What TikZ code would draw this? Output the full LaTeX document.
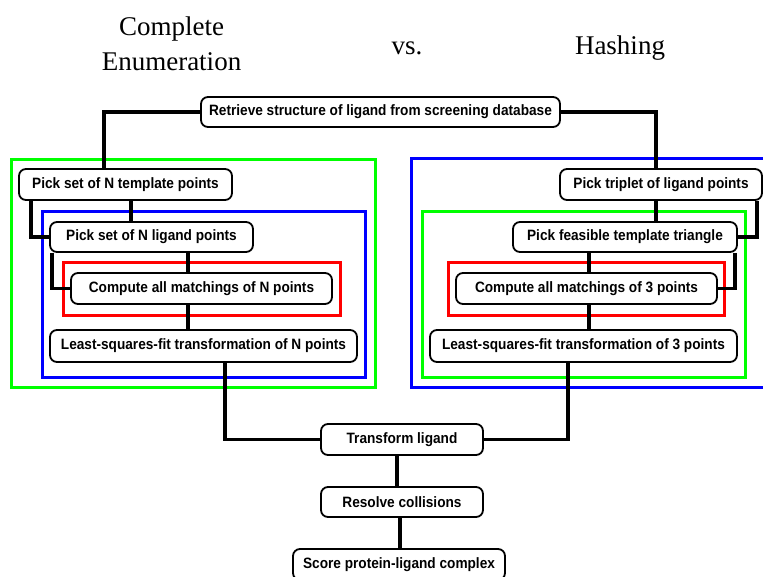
\documentclass[tikz,border=0pt]{standalone}
\usepackage{fontspec}
\usepackage{tikz}
\usetikzlibrary{positioning, calc}
\newfontfamily\titlefont{Liberation Serif}
\newfontfamily\boxfont[FakeStretch=0.91]{Liberation Sans Bold}
\pgfdeclarelayer{frames}
\pgfdeclarelayer{links}
\pgfsetlayers{frames,links,main}
\tikzset{
  stepbox/.style={draw, line width=1.8pt, fill=white, rounded corners=7pt, inner sep=0pt, minimum height=31pt, font=\boxfont\fontsize{15}{18}\selectfont},
  link/.style={line width=3.5pt},
  frame/.style={line width=3pt},
  heading/.style={anchor=base, inner sep=0pt, font=\titlefont\fontsize{27}{35}\selectfont}
}

\begin{document}
\begin{tikzpicture}[x=1pt, y=-1pt]
\useasboundingbox (0,0) rectangle (763,576);
\clip (0,0) rectangle (763,576);

% Headings
\node[heading] (complete) at (171.5,35) {Complete};
\node[heading] (enum) at (171.5,70) {Enumeration};
\node[heading] (vs) at (407,54) {vs.};
\node[heading] (hashing) at (620,54) {Hashing};

% Boxes
\node[stepbox, minimum width=359pt, minimum height=30pt] (retr) at (380.5,112) {Retrieve structure of ligand from screening database};

\node[stepbox, minimum width=213pt] (tmpl) at (125.5,184.5) {Pick set of N template points};
\node[stepbox, minimum width=203pt, minimum height=30pt] (lig) at (151.5,237) {Pick set of N ligand points};
\node[stepbox, minimum width=261pt] (matchN) at (201.5,288.5) {Compute all matchings of N points};
\node[stepbox, minimum width=307pt, minimum height=32pt] (lsqN) at (203.5,346) {Least-squares-fit transformation of N points};

\node[stepbox, minimum width=202pt] (trip) at (661,184.5) {Pick triplet of ligand points};
\node[stepbox, minimum width=224pt, minimum height=30pt] (feas) at (625,237) {Pick feasible template triangle};
\node[stepbox, minimum width=261pt] (match3) at (586.5,288.5) {Compute all matchings of 3 points};
\node[stepbox, minimum width=307pt, minimum height=32pt] (lsq3) at (583.5,346) {Least-squares-fit transformation of 3 points};

\node[stepbox, minimum width=162pt] (trans) at (402,439.5) {Transform ligand};
\node[stepbox, minimum width=162pt, minimum height=30pt] (resolve) at (402,502) {Resolve collisions};
\node[stepbox, minimum width=212pt] (score) at (399,564.5) {Score protein-ligand complex};

% Frames
\begin{pgfonlayer}{frames}
\draw[frame, green] (11,159) rectangle (375,387);
\draw[frame, blue] (42,211) rectangle (365,377);
\draw[frame, red] (63,262) rectangle (340,315);
\draw[frame, blue] (411,158) rectangle (780,387);
\draw[frame, green] (422,211) rectangle (745,377);
\draw[frame, red] (448,262) rectangle (724,315);
\end{pgfonlayer}

% Lines
\begin{pgfonlayer}{links}
\draw[link] (retr.west) -| ([xshift=-21.5pt]tmpl.north);
\draw[link] (retr.east) -| ([xshift=-5pt]trip.north);

% complete enumeration
\draw[link] ([xshift=5.5pt]tmpl.south) -- ([xshift=5.5pt]tmpl.south |- lig.north);
\draw[link] ([xshift=13pt]tmpl.south west) |- (lig.west);
\draw[link] ([xshift=36.5pt]lig.south) -- ([xshift=36.5pt]lig.south |- matchN.north);
\draw[link] ([xshift=3pt]lig.south west) |- (matchN.west);
\draw[link] ([xshift=-13.5pt]matchN.south) -- ([xshift=-13.5pt]matchN.south |- lsqN.north);
\draw[link] ([xshift=21.5pt]lsqN.south) |- (trans.west);

% hashing
\draw[link] ([xshift=-5pt]trip.south) -- ([xshift=-5pt]trip.south |- feas.north);
\draw[link] ([xshift=-6pt]trip.south east) |- (feas.east);
\draw[link] ([xshift=-36pt]feas.south) -- ([xshift=-36pt]feas.south |- match3.north);
\draw[link] ([xshift=-3pt]feas.south east) |- (match3.east);
\draw[link] ([xshift=2.5pt]match3.south) -- ([xshift=2.5pt]match3.south |- lsq3.north);
\draw[link] ([xshift=-15.5pt]lsq3.south) |- (trans.east);

% common steps
\draw[link] ([xshift=-5pt]trans.south) -- ([xshift=-5pt]trans.south |- resolve.north);
\draw[link] ([xshift=-2pt]resolve.south) -- ([xshift=-2pt]resolve.south |- score.north);
\end{pgfonlayer}

\end{tikzpicture}
\end{document}
